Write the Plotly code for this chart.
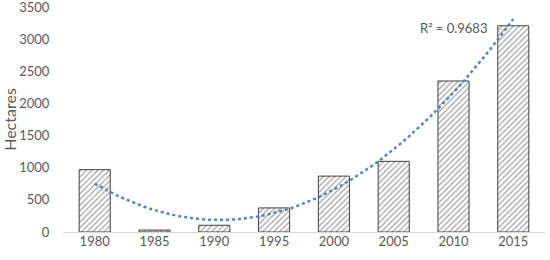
import numpy as np
import plotly.graph_objects as go

years = ["1980", "1985", "1990", "1995", "2000", "2005", "2010", "2015"]
hectares = [970, 30, 105, 375, 870, 1100, 2350, 3210]
y_ticks = [0, 500, 1000, 1500, 2000, 2500, 3000, 3500]
r2_label = "R² = 0.9683"

# second order polynomial trend, as in the spreadsheet chart
idx = np.arange(len(years))
coef = np.polyfit(idx, hectares, 2)
fine = np.linspace(0, len(years) - 1, 60)
trend = np.polyval(coef, fine)

fig = go.Figure()
fig.add_trace(go.Bar(
    x=idx, y=hectares,
    width=0.52,
    marker=dict(
        color="white",
        line=dict(color="#404040", width=1),
        pattern=dict(shape="/", fgcolor="#444444", bgcolor="white", size=4, solidity=0.3),
    ),
    showlegend=False,
))
fig.add_trace(go.Scatter(
    x=fine, y=trend, mode="lines",
    line=dict(color="#4f86bd", width=2.5, dash="dot"),
    showlegend=False,
))
fig.add_annotation(x=6.0, y=3180, text=r2_label, showarrow=False,
                   font=dict(size=13, color="#595959"))

fig.update_layout(
    width=550, height=260,
    margin=dict(l=63, r=5, t=7, b=28),
    paper_bgcolor="white", plot_bgcolor="white",
    font=dict(family="Lato, Liberation Sans, sans-serif", size=13, color="#595959"),
    xaxis=dict(tickmode="array", tickvals=idx, ticktext=years, range=[-0.53, 7.53],
               showgrid=False, zeroline=False, showline=False, ticks="",
               automargin=False),
    yaxis=dict(range=[0, 3502], tickmode="array", tickvals=y_ticks, showgrid=False,
               zeroline=True, zerolinecolor="#d9d9d9", zerolinewidth=1, showline=False,
               automargin=False, ticklen=10, tickcolor="white", ticks="outside",
               ticklabeloverflow="allow",
               title=dict(text="Hectares", standoff=6)),
)
fig.write_html("out.html", config={"displayModeBar": False},
               post_script="document.body.style.margin='0';")
